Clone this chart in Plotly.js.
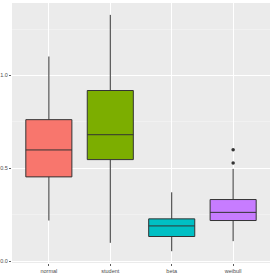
<!DOCTYPE html>
<html><head><meta charset="utf-8">
<script src="https://cdn.plot.ly/plotly-3.0.1.min.js"></script>
<style>html,body{margin:0;padding:0;background:#fff}</style>
</head><body><div id="chart" style="width:273px;height:273px"></div>
<script>
const categories = ['normal', 'student', 'beta', 'weibull'];
const lowerWhisker = [0.219, 0.099, 0.054, 0.108];
const q1Values = [0.454, 0.547, 0.133, 0.219];
const medianValues = [0.599, 0.681, 0.190, 0.263];
const q3Values = [0.762, 0.919, 0.228, 0.332];
const upperWhisker = [1.102, 1.326, 0.371, 0.497];
const fillColors = ['#F8766D', '#7CAE00', '#00BFC4', '#C77CFF'];
const outlierCategory = ['weibull', 'weibull'];
const outlierValues = [0.600, 0.529];
const yTickVals = [0, 0.5, 1.0];
const yTickText = ['0.0', '0.5', '1.0'];

const traces = categories.map((c, i) => ({
  type: 'box',
  x: [c],
  q1: [q1Values[i]], median: [medianValues[i]], q3: [q3Values[i]],
  lowerfence: [lowerWhisker[i]], upperfence: [upperWhisker[i]],
  fillcolor: fillColors[i],
  line: {color: '#333333', width: 1},
  width: 0.75,
  whiskerwidth: 0,
  boxpoints: false,
  hoverinfo: 'skip',
  showlegend: false
}));
traces.push({
  type: 'scatter', mode: 'markers',
  x: outlierCategory, y: outlierValues,
  marker: {color: '#333333', size: 3.5},
  hoverinfo: 'skip', showlegend: false
});

const layout = {
  width: 273, height: 273,
  margin: {l: 12, r: 3, t: 3, b: 9.5, pad: 0},
  paper_bgcolor: '#FFFFFF', plot_bgcolor: '#EBEBEB',
  showlegend: false,
  font: {family: 'Liberation Sans, Arial, sans-serif', size: 5.5, color: '#4D4D4D'},
  xaxis: {
    type: 'category', categoryorder: 'array', categoryarray: categories,
    range: [-0.6, 3.6], showgrid: true, gridcolor: '#FFFFFF', gridwidth: 1,
    zeroline: false, showline: false,
    ticks: 'outside', ticklen: 2, tickcolor: '#333333', tickwidth: 0.8,
    tickfont: {size: 5.5, color: '#4D4D4D'}
  },
  yaxis: {
    range: [-0.0096, 1.39], tickvals: yTickVals, ticktext: yTickText,
    showgrid: true, gridcolor: '#FFFFFF', gridwidth: 1,
    minor: {tickvals: [0.25, 0.75, 1.25], showgrid: true, gridcolor: '#F5F5F5', gridwidth: 0.6, ticks: ''},
    zeroline: false, showline: false,
    ticks: 'outside', ticklen: 2, tickcolor: '#333333', tickwidth: 0.8,
    tickfont: {size: 5.5, color: '#4D4D4D'}
  }
};
Plotly.newPlot('chart', traces, layout, {displayModeBar: false, staticPlot: true});
</script></body></html>
